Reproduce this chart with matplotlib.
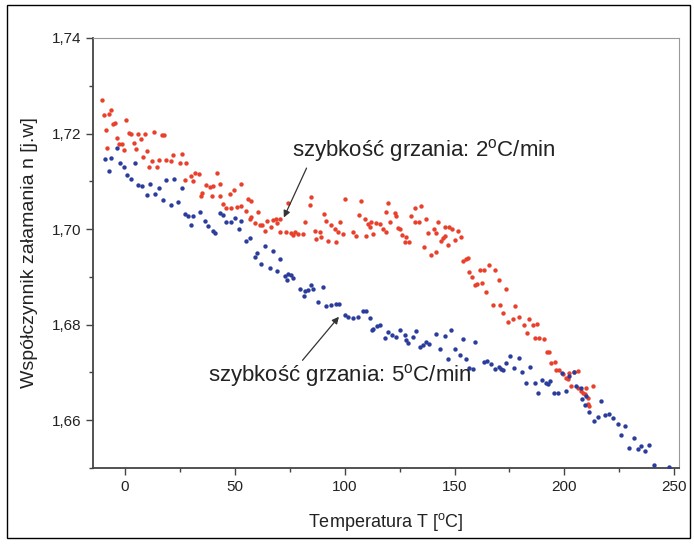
import matplotlib
matplotlib.use("Agg")
import matplotlib.pyplot as plt
from matplotlib.patches import Rectangle
from matplotlib.ticker import MultipleLocator, FuncFormatter

plt.rcParams['font.family'] = ['Liberation Sans', 'DejaVu Sans']

# heating rate 2 C/min (red)
t_2 = [-10.6, -9.4, -7.3, -6.5, -5.6, -4.7, 0.5, -8.6, 2.0, 2.7, 6.0, 9.1, 7.3, 13.3, 16.7, 17.7,
       -3.5, -2.6, -1.5, 4.1, -8.3, -0.3, 5.0, 10.1, 8.3, 22.0, 26.0, 12.4, 15.5, 18.6, 21.2, 25.0,
       28.0, 11.0, 14.4, 31.8, 33.8, 30.3, 41.7, 27.3, 31.0, 37.1, 38.6, 40.2, 43.2, 53.0, 35.3, 34.5,
       39.7, 43.2, 47.7, 49.7, 56.0, 57.6, 44.7, 46.2, 48.5, 50.8, 53.0, 55.3, 57.6, 60.6, 56.8, 59.1,
       61.4, 62.4, 64.7, 67.4, 68.6, 70.5, 69.4, 63.6, 66.7, 70.5, 74.2, 73.5, 75.5, 77.5, 79.0, 76.5,
       81.0, 84.8, 84.1, 81.8, 86.4, 88.6, 87.1, 89.4, 90.5, 91.7, 94.0, 95.5, 97.0, 99.2, 97.7, 100.3,
       92.4, 96.2, 107.6, 106.5, 109.1, 110.6, 112.1, 111.4, 109.8, 112.9, 103.8, 105.3, 114.4, 115.9,
       117.4, 118.6, 119.7, 122.7, 123.5, 120.5, 124.2, 125.0, 118.6, 126.2, 128.0, 127.3, 129.2, 130.3,
       131.8, 134.8, 131.8, 133.8, 136.8, 142.4, 137.9, 140.5, 141.7, 135.9, 139.4, 141.4, 144.0, 144.7,
       145.5, 145.5, 147.7, 148.9, 151.5, 153.0, 147.0, 150.0, 153.8, 155.3, 156.0, 156.8, 158.0, 159.1,
       160.3, 162.6, 161.4, 163.3, 165.6, 168.5, 170.0, 164.4, 173.2, 167.7, 170.8, 177.7, 172.0, 174.2,
       176.5, 179.2, 181.5, 184.1, 185.6, 187.4, 183.0, 186.4, 188.6, 190.5, 192.0, 192.9, 193.9, 195.5,
       196.2, 197.7, 199.2, 200.8, 202.3, 204.5, 206.0, 203.0, 206.0, 209.8, 212.9, 208.3, 210.6, 210.6,
       207.6, 209.4, 211.4, 201.5]
n_2 = [1.7271, 1.7238, 1.7240, 1.7249, 1.7220, 1.7222, 1.7229, 1.7208, 1.7201, 1.7199, 1.7198, 1.7199,
       1.7189, 1.7204, 1.7196, 1.7197, 1.7191, 1.7179, 1.7179, 1.7181, 1.7170, 1.7165, 1.7167, 1.7163,
       1.7151, 1.7156, 1.7158, 1.7142, 1.7144, 1.7145, 1.7142, 1.7138, 1.7139, 1.7129, 1.7130, 1.7118,
       1.7115, 1.7111, 1.7117, 1.7103, 1.7101, 1.7092, 1.7089, 1.7090, 1.7095, 1.7094, 1.7076, 1.7069,
       1.7069, 1.7069, 1.7074, 1.7081, 1.7063, 1.7058, 1.7053, 1.7044, 1.7045, 1.7047, 1.7049, 1.7037,
       1.7026, 1.7035, 1.7022, 1.7012, 1.7009, 1.7009, 1.7017, 1.7019, 1.7022, 1.7021, 1.7012, 1.6996,
       1.7004, 1.6994, 1.7054, 1.6993, 1.6991, 1.6993, 1.6990, 1.6987, 1.6989, 1.7068, 1.7051, 1.7014,
       1.6996, 1.6993, 1.6979, 1.6983, 1.7031, 1.7017, 1.7008, 1.7000, 1.6993, 1.6990, 1.7014, 1.7064,
       1.6976, 1.6972, 1.7059, 1.7029, 1.7021, 1.7010, 1.7014, 1.7004, 1.6986, 1.6990, 1.6993, 1.6985,
       1.7012, 1.7010, 1.7000, 1.7035, 1.7054, 1.7033, 1.7028, 1.7015, 1.7002, 1.7000, 1.6993, 1.6988,
       1.6983, 1.6972, 1.6974, 1.7028, 1.7045, 1.7049, 1.7014, 1.7015, 1.7021, 1.7015, 1.6992, 1.7000,
       1.6992, 1.6963, 1.6946, 1.6953, 1.6976, 1.6981, 1.6986, 1.7004, 1.7005, 1.7000, 1.6996, 1.6983,
       1.6967, 1.6977, 1.6934, 1.6937, 1.6940, 1.6911, 1.6899, 1.6882, 1.6885, 1.6888, 1.6915, 1.6915,
       1.6924, 1.6915, 1.6894, 1.6869, 1.6875, 1.6842, 1.6842, 1.6840, 1.6825, 1.6806, 1.6811, 1.6817,
       1.6800, 1.6812, 1.6799, 1.6802, 1.6783, 1.6772, 1.6772, 1.6769, 1.6743, 1.6742, 1.6719, 1.6722,
       1.6706, 1.6705, 1.6696, 1.6688, 1.6698, 1.6701, 1.6703, 1.6672, 1.6667, 1.6668, 1.6672, 1.6658,
       1.6647, 1.6633, 1.6661, 1.6654, 1.6629, 1.6686]

# heating rate 5 C/min (blue)
t_5 = [-3.8, -9.1, -6.1, -7.3, -2.3, -0.3, 1.0, 2.6, 4.5, 6.0, 8.0, 9.9, 13.6, 11.4, 15.6, 17.4,
       20.9, 24.2, 18.9, 22.3, 25.8, 27.3, 28.8, 31.0, 34.1, 30.0, 43.2, 44.7, 36.4, 37.9, 39.9, 41.2,
       46.2, 48.5, 50.0, 51.8, 53.0, 55.3, 56.8, 59.1, 62.1, 63.6, 65.9, 67.4, 69.0, 70.5, 60.1, 72.7,
       74.2, 75.8, 76.5, 73.8, 79.5, 81.8, 81.4, 84.8, 85.6, 83.3, 90.1, 87.9, 91.7, 94.0, 95.9, 97.4,
       100.0, 101.5, 103.8, 106.0, 108.3, 109.5, 111.4, 112.9, 114.7, 115.9, 112.6, 118.2, 119.7, 121.7,
       123.5, 125.0, 127.3, 128.8, 131.1, 132.6, 127.7, 134.1, 135.6, 137.1, 138.6, 141.4, 143.2, 145.5,
       148.5, 150.0, 153.8, 152.3, 147.0, 155.3, 156.8, 158.6, 159.5, 163.2, 164.9, 166.7, 168.2, 170.1,
       171.2, 172.0, 173.5, 175.3, 177.0, 179.2, 180.8, 182.6, 184.5, 186.4, 189.9, 191.4, 193.5, 192.4,
       187.9, 195.1, 196.9, 200.8, 198.9, 202.3, 204.2, 205.3, 207.6, 208.0, 209.8, 209.5, 211.4, 213.6,
       215.2, 216.7, 218.6, 220.2, 222.3, 224.2, 225.8, 227.7, 229.2, 231.5, 233.3, 234.8, 236.8, 238.6,
       240.6, 247.7]
n_5 = [1.7170, 1.7146, 1.7149, 1.7121, 1.7138, 1.7129, 1.7113, 1.7104, 1.7139, 1.7092, 1.7090, 1.7071,
       1.7073, 1.7094, 1.7085, 1.7060, 1.7050, 1.7057, 1.7102, 1.7104, 1.7085, 1.7031, 1.7028, 1.7028,
       1.7035, 1.7008, 1.7033, 1.7029, 1.7016, 1.7007, 1.6996, 1.6991, 1.7014, 1.7015, 1.7024, 1.7000,
       1.7017, 1.6976, 1.6981, 1.6941, 1.6926, 1.6964, 1.6918, 1.6955, 1.6913, 1.6937, 1.6951, 1.6901,
       1.6906, 1.6905, 1.6897, 1.6894, 1.6874, 1.6870, 1.6861, 1.6882, 1.6875, 1.6872, 1.6879, 1.6847,
       1.6840, 1.6842, 1.6843, 1.6844, 1.6820, 1.6816, 1.6814, 1.6816, 1.6828, 1.6828, 1.6813, 1.6792,
       1.6797, 1.6800, 1.6788, 1.6772, 1.6785, 1.6778, 1.6774, 1.6788, 1.6779, 1.6762, 1.6774, 1.6786,
       1.6767, 1.6754, 1.6758, 1.6764, 1.6760, 1.6781, 1.6750, 1.6776, 1.6788, 1.6750, 1.6769, 1.6736,
       1.6729, 1.6729, 1.6710, 1.6707, 1.6764, 1.6721, 1.6724, 1.6717, 1.6707, 1.6712, 1.6708, 1.6705,
       1.6719, 1.6735, 1.6710, 1.6731, 1.6700, 1.6679, 1.6712, 1.6679, 1.6684, 1.6679, 1.6682, 1.6675,
       1.6656, 1.6658, 1.6658, 1.6661, 1.6698, 1.6693, 1.6701, 1.6672, 1.6668, 1.6644, 1.6651, 1.6632,
       1.6618, 1.6599, 1.6606, 1.6640, 1.6611, 1.6613, 1.6604, 1.6592, 1.6569, 1.6588, 1.6542, 1.6563,
       1.6540, 1.6547, 1.6535, 1.6549, 1.6506, 1.6503]

label_2 = 'szybkość grzania: 2$^{\\mathregular{o}}$C/min'
label_5 = 'szybkość grzania: 5$^{\\mathregular{o}}$C/min'

fig = plt.figure(figsize=(6.94, 5.5), dpi=100)
ax = fig.add_axes([0.134, 0.149, 0.844, 0.782])

ax.scatter(t_2, n_2, s=10, color='#e8402a', linewidths=0, zorder=3)
ax.scatter(t_5, n_5, s=10, color='#2a3c9c', linewidths=0, zorder=3)

ax.set_xlim(-14.5, 252)
ax.set_ylim(1.65, 1.74)
ax.xaxis.set_major_locator(MultipleLocator(50))
ax.xaxis.set_minor_locator(MultipleLocator(25))
ax.yaxis.set_major_locator(MultipleLocator(0.02))
ax.yaxis.set_minor_locator(MultipleLocator(0.01))
ax.yaxis.set_major_formatter(FuncFormatter(lambda v, p: f'{v:.2f}'.replace('.', ',')))

for s in ['left', 'bottom']:
    ax.spines[s].set_color('#444444')
    ax.spines[s].set_linewidth(1.3)
for s in ['top', 'right']:
    ax.spines[s].set_color('#999999')
    ax.spines[s].set_linewidth(0.8)

ax.tick_params(which='both', direction='out', colors='#444444', labelcolor='#222222',
               labelsize=11, width=1)
ax.tick_params(which='major', length=5)
ax.tick_params(which='minor', length=3)

ax.set_xlabel('Temperatura T [$^{\\mathregular{o}}$C]', fontsize=13, color='#222222', labelpad=12)
ax.set_ylabel('Współczynnik załamania n [j.w]', fontsize=14, color='#222222', labelpad=10)

arrow = dict(arrowstyle='-|>', color='#333333', lw=0.9, mutation_scale=10)
ax.annotate('', xy=(71.8, 1.7019), xytext=(83.2, 1.7133), arrowprops=arrow, zorder=4)
ax.annotate('', xy=(98.2, 1.6821), xytext=(80.0, 1.6721), arrowprops=arrow, zorder=4)
ax.text(75.9, 1.7165, label_2, fontsize=16, color='#222222', ha='left', va='center')
ax.text(37.7, 1.6694, label_5, fontsize=16, color='#222222', ha='left', va='center')

fig.add_artist(Rectangle((0.010, 0.022), 0.984, 0.969, transform=fig.transFigure,
                         fill=False, edgecolor='black', linewidth=1))

fig.savefig('out.png', dpi=100)
